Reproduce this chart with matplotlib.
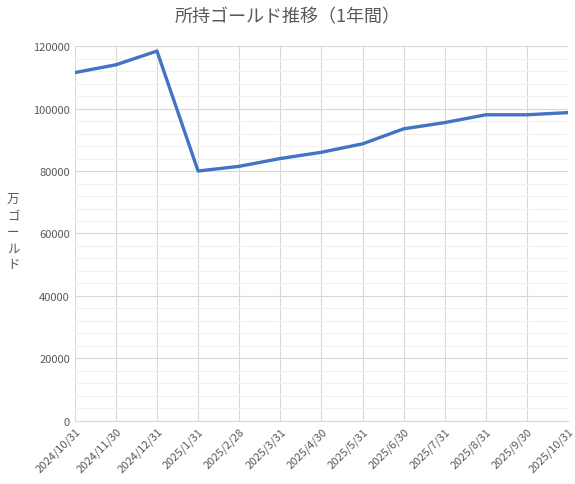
import numpy as np
import matplotlib
matplotlib.use("Agg")
import matplotlib.pyplot as plt
from matplotlib.ticker import MultipleLocator

plt.rcParams['font.family'] = ['Noto Sans CJK JP', 'DejaVu Sans']

dates = ["2024/10/31", "2024/11/30", "2024/12/31", "2025/1/31", "2025/2/28",
         "2025/3/31", "2025/4/30", "2025/5/31", "2025/6/30", "2025/7/31",
         "2025/8/31", "2025/9/30", "2025/10/31"]
gold = [111500, 114000, 118400, 80000, 81500, 84000, 86000, 88700,
        93500, 95500, 98000, 98000, 98700]

fig = plt.figure(figsize=(5.75, 4.85), dpi=100)
ax = fig.add_axes([0.13, 0.13, 0.858, 0.773])

x = np.arange(len(dates))
ax.plot(x, gold, color="#4472C4", lw=2.4, zorder=3)

ax.set_xlim(0, len(dates) - 1)
ax.set_ylim(0, 120000)
ax.yaxis.set_major_locator(MultipleLocator(20000))
ax.yaxis.set_minor_locator(MultipleLocator(4000))
ax.set_xticks(x)
ax.set_xticklabels(dates, rotation=45, ha="right", rotation_mode="anchor",
                   fontsize=8, color="#595959")
ax.tick_params(axis="y", labelsize=8, labelcolor="#595959", length=0, which="both")
ax.tick_params(axis="x", length=0)
ax.grid(which="major", color="#D9D9D9", lw=0.8)
ax.grid(which="minor", axis="y", color="#F0F0F0", lw=0.8)
for s in ax.spines.values():
    s.set_visible(False)
ax.spines["bottom"].set_visible(True)
ax.spines["bottom"].set_color("#D9D9D9")

fig.text(0.012, 0.52, "万\nゴ\nー\nル\nド", fontsize=9, color="#595959",
         ha="left", va="center", linespacing=1.3)
fig.text(0.5, 0.965, "所持ゴールド推移（1年間）", fontsize=13, color="#595959",
         ha="center", va="center")

fig.savefig("out.png", dpi=100)
